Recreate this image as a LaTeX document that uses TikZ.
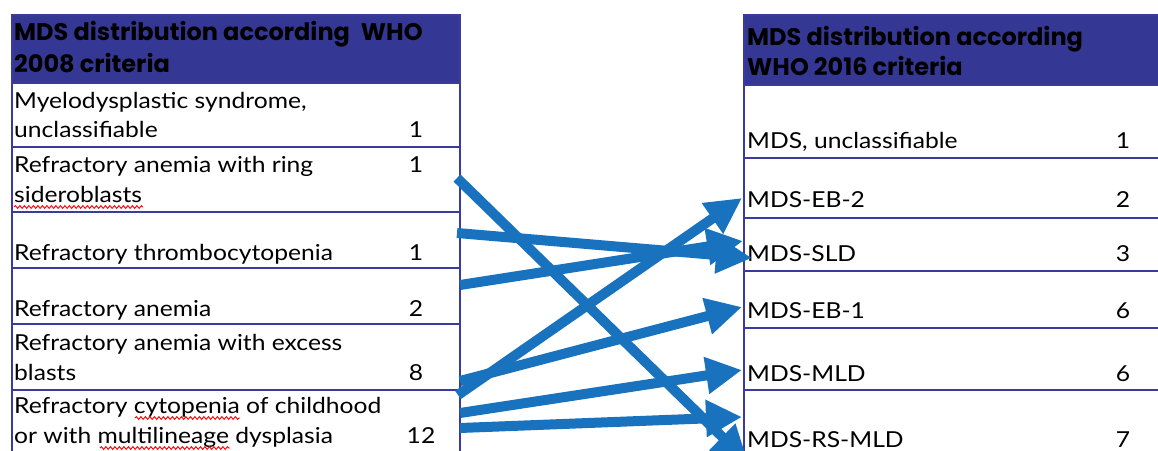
\documentclass[tikz,border=0pt]{standalone}
\usepackage{fontspec}
\setmainfont{Lato}[FakeStretch=1.12]
\newfontfamily\hdfont{Poppins}[BoldFont={* Bold}]
\usetikzlibrary{arrows.meta,decorations.pathmorphing}
\definecolor{hdr}{HTML}{353795}
\definecolor{gridc}{HTML}{3B3B9E}
\definecolor{arr}{HTML}{1872BE}
\begin{document}
\begin{tikzpicture}[x=1pt,y=-1pt,
  txt/.style={anchor=base west, inner sep=0pt, font=\fontsize{22}{26}\selectfont},
  num/.style={anchor=base, inner sep=0pt, font=\fontsize{22}{26}\selectfont},
  hd/.style={anchor=base west, inner sep=0pt, font=\hdfont\fontsize{24}{28}\selectfont\bfseries},
  hdrbox/.style={fill=hdr, draw=gridc, line width=1.5pt, anchor=north west, inner sep=0pt},
  cell/.style={draw=gridc, line width=1.5pt, anchor=north west, inner sep=0pt},
  flow/.style={draw=arr, line width=10pt, -{Triangle[length=36pt,width=35pt]}},
  spell/.style={draw=red, line width=0.9pt, decorate, decoration={snake, amplitude=1.4pt, segment length=4.5pt}}
]
\clip (0,0) rectangle (1158,450);
% left table
\node[hdrbox, minimum width=448pt, minimum height=68pt] (lh) at (11,14) {};
\node[cell, minimum width=448pt, minimum height=64pt] (l1) at (11,82) {};
\node[cell, minimum width=448pt, minimum height=65pt] (l2) at (11,146) {};
\node[cell, minimum width=448pt, minimum height=56pt] (l3) at (11,211) {};
\node[cell, minimum width=448pt, minimum height=56pt] (l4) at (11,267) {};
\node[cell, minimum width=448pt, minimum height=66pt] (l5) at (11,323) {};
\node[cell, minimum width=448pt, minimum height=80pt] (l6) at (11,389) {};
% right table
\node[hdrbox, minimum width=430pt, minimum height=70pt] (rh) at (743,14) {};
\node[cell, minimum width=430pt, minimum height=73pt] (r1) at (743,84) {};
\node[cell, minimum width=430pt, minimum height=60pt] (r2) at (743,157) {};
\node[cell, minimum width=430pt, minimum height=53pt] (r3) at (743,217) {};
\node[cell, minimum width=430pt, minimum height=57pt] (r4) at (743,270) {};
\node[cell, minimum width=430pt, minimum height=62pt] (r5) at (743,327) {};
\node[cell, minimum width=430pt, minimum height=80pt] (r6) at (743,389) {};
% left texts
\node[hd] (lht1) at (14,40) {MDS distribution according\hspace{11pt}WHO};
\node[hd] (lht2) at (14,72) {2008 criteria};
\node[txt] (t1a) at (14,108) {Myelodysplastic syndrome,};
\node[txt] (t1b) at (14,137) {unclassifiable};
\node[num] (n1) at (416,137) {1};
\node[txt] (t2a) at (14,172) {Refractory anemia with ring};
\node[txt] (t2b) at (14,202) {sideroblasts};
\node[num] (n2) at (416,172) {1};
\node[txt] (t3) at (14,260) {Refractory thrombocytopenia};
\node[num] (n3) at (416,260) {1};
\node[txt] (t4) at (14,316) {Refractory anemia};
\node[num] (n4) at (416,316) {2};
\node[txt] (t5a) at (14,350) {Refractory anemia with excess};
\node[txt] (t5b) at (14,380) {blasts};
\node[num] (n5) at (416,380) {8};
\node[txt] (t6a) at (14,413) {Refractory cytopenia of childhood};
\node[txt] (t6b) at (14,443) {or with multilineage dysplasia};
\node[num] (n6) at (421,443) {12};
% right texts
\node[hd] (rht1) at (747,45) {MDS distribution according};
\node[hd] (rht2) at (747,75) {WHO 2016 criteria};
\node[txt] (s1) at (747,148) {MDS, unclassifiable};
\node[num] (m1) at (1123,148) {1};
\node[txt] (s2) at (747,207) {MDS-EB-2};
\node[num] (m2) at (1123,207) {2};
\node[txt] (s3) at (747,261) {MDS-SLD};
\node[num] (m3) at (1123,261) {3};
\node[txt] (s4) at (747,318) {MDS-EB-1};
\node[num] (m4) at (1123,318) {6};
\node[txt] (s5) at (747,381) {MDS-MLD};
\node[num] (m5) at (1123,381) {6};
\node[txt] (s6) at (747,447) {MDS-RS-MLD};
\node[num] (m6) at (1123,447) {7};
% spell-check underlines
\draw[spell] (14,207) -- (143,207);
\draw[spell] (135,418) -- (240,418);
\draw[spell] (100,448) -- (230,448);
% arrow end points
\coordinate (rarsO) at (457,178);
\coordinate (rtO) at (457,233);
\coordinate (raO) at (460,285);
\coordinate (raebO1) at (460,381);
\coordinate (raebO2) at (458,395);
\coordinate (rcmdO1) at (460,413);
\coordinate (rcmdO2) at (460,428);
\coordinate (eb2I) at (742,198);
\coordinate (sldI1) at (752,258);
\coordinate (sldI2) at (743,241);
\coordinate (eb1I) at (742,307);
\coordinate (mldI) at (742,370);
\coordinate (rsmldI1) at (742,417);
\coordinate (rsmldI2) at (748,462);
% arrows
\draw[flow] (rarsO) -- (rsmldI2);
\draw[flow] (rtO) -- (sldI1);
\draw[flow] (raO) -- (sldI2);
\draw[flow] (raebO2) -- (eb2I);
\draw[flow] (raebO1) -- (eb1I);
\draw[flow] (rcmdO1) -- (mldI);
\draw[flow] (rcmdO2) -- (rsmldI1);
\end{tikzpicture}
\end{document}
